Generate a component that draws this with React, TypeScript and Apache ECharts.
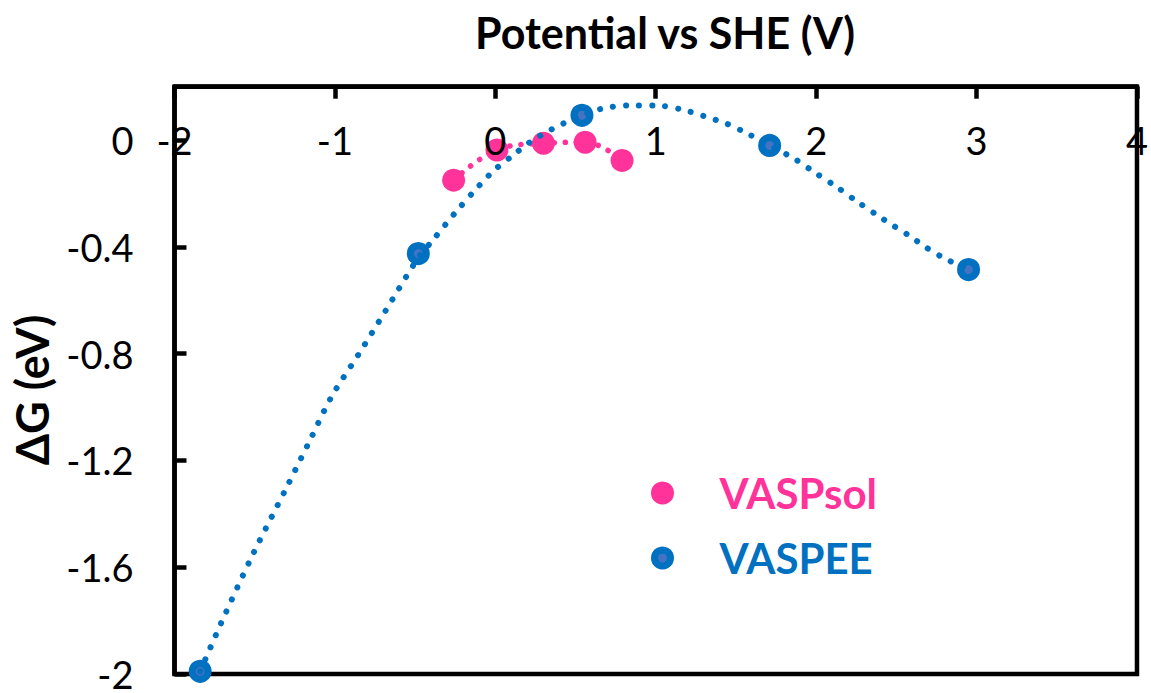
import React, { useEffect, useRef } from "react";
import * as echarts from "echarts";

const xTicks = [-2, -1, 0, 1, 2, 3, 4];
const yTicks = [-2, -1.6, -1.2, -0.8, -0.4, 0];

const vaspsolX = [-0.26, 0.01, 0.3, 0.56, 0.79];
const vaspsolY = [-0.15, -0.037, -0.012, -0.008, -0.076];

const vaspeeX = [-1.84, -0.48, 0.54, 1.71, 2.95];
const vaspeeY = [-1.99, -0.425, 0.093, -0.02, -0.485];

// dotted trendline of VASPEE
const vaspeeTrendX = [-1.84, -1.71, -1.51, -1.3, -1.16, -1.02, -0.85, -0.69, -0.48, -0.39, -0.25, -0.1, 0.0, 0.11, 0.21, 0.35, 0.54, 0.66, 0.83, 1.0, 1.16, 1.3, 1.44, 1.56, 1.71, 1.87, 1.99, 2.12, 2.25, 2.38, 2.48, 2.59, 2.68, 2.8, 2.95];
const vaspeeTrendY = [-1.99, -1.81, -1.55, -1.3, -1.13, -0.96, -0.8, -0.645, -0.44, -0.375, -0.272, -0.17, -0.109, -0.057, -0.01, 0.04, 0.093, 0.117, 0.13, 0.13, 0.115, 0.09, 0.062, 0.028, -0.02, -0.072, -0.121, -0.172, -0.228, -0.281, -0.32, -0.362, -0.4, -0.443, -0.485];

const PINK = "#FF3399";
const BLUE = "#0070C0";
const BLUE_IN = "#4472C4";
const FONT = "Lato, Carlito, 'Open Sans', sans-serif";

const zip = (xs: number[], ys: number[]) => xs.map((x, i) => [x, ys[i]]);

export default function App() {
  const ref = useRef<HTMLDivElement>(null);
  useEffect(() => {
    if (!ref.current) return;
    const chart = echarts.init(ref.current, undefined, { renderer: "svg" });
    chart.setOption({
      animation: false,
      backgroundColor: "#ffffff",
      title: {
        text: "Potential vs SHE (V)",
        left: 660,
        top: 6,
        textAlign: "center",
        textStyle: { fontFamily: FONT, fontWeight: "bold", fontSize: 43, color: "#000" },
      },
      grid: {
        left: 174.5,
        right: 7,
        top: 86.7,
        bottom: 7.4,
        show: true,
        borderColor: "#000",
        borderWidth: 4.5,
        backgroundColor: "transparent",
      },
      legend: {
        orient: "vertical",
        left: 646,
        top: 467,
        itemWidth: 16,
        itemHeight: 16,
        itemGap: 23,
        selectedMode: false,
        icon: "circle",
        textStyle: { fontFamily: FONT, fontWeight: "bold", fontSize: 42, padding: [0, 0, 0, 44] },
        data: [
          { name: "VASPsol", textStyle: { color: PINK }, itemStyle: { color: PINK, borderColor: PINK, borderWidth: 7, opacity: 1 } },
          { name: "VASPEE", textStyle: { color: BLUE }, itemStyle: { color: BLUE_IN, borderColor: BLUE, borderWidth: 7, opacity: 1 } },
        ],
      },
      xAxis: {
        type: "value",
        position: "top",
        min: xTicks[0],
        max: xTicks[xTicks.length - 1],
        interval: 1,
        z: 10,
        axisLine: { show: true, onZero: false, lineStyle: { color: "#000", width: 4.5 } },
        axisTick: { show: true, inside: true, length: 12, lineStyle: { color: "#000", width: 4.5 } },
        axisLabel: {
          inside: true,
          margin: 34,
          showMinLabel: true,
          showMaxLabel: true,
          fontFamily: FONT,
          fontSize: 38,
          color: "#000",
        },
        splitLine: { show: false },
      },
      yAxis: {
        type: "value",
        min: yTicks[0],
        max: 0.2,
        interval: 0.4,
        axisLine: { show: true, onZero: false, lineStyle: { color: "#000", width: 4.5 } },
        axisTick: { show: true, inside: true, length: 12, lineStyle: { color: "#000", width: 4.5 } },
        axisLabel: {
          margin: 41,
          showMaxLabel: false,
          fontFamily: FONT,
          fontSize: 38,
          color: "#000",
        },
        splitLine: { show: false },
      },
      graphic: [
        {
          type: "text",
          x: 32,
          y: 390,
          rotation: Math.PI / 2,
          style: {
            text: "ΔG (eV)",
            font: `bold 45px ${FONT}`,
            fill: "#000",
            textAlign: "center",
            textVerticalAlign: "middle",
          },
        },
      ],
      series: [
        {
          name: "VASPsol",
          type: "scatter",
          symbol: "circle",
          symbolSize: 23,
          itemStyle: { color: PINK, opacity: 1 },
          z: 2,
          data: zip(vaspsolX, vaspsolY),
        },
        {
          name: "VASPEE",
          type: "scatter",
          symbol: "circle",
          symbolSize: 16,
          itemStyle: { color: BLUE_IN, borderColor: BLUE, borderWidth: 7, opacity: 1 },
          z: 2,
          data: zip(vaspeeX, vaspeeY),
        },
        {
          name: "VASPsol trend",
          type: "line",
          smooth: 0.4,
          showSymbol: false,
          symbol: "none",
          z: 3,
          lineStyle: { color: PINK, width: 5.5, type: [0.1, 11], cap: "round" },
          data: zip(vaspsolX, vaspsolY),
        },
        {
          name: "VASPEE trend",
          type: "line",
          smooth: 0.3,
          showSymbol: false,
          symbol: "none",
          z: 3,
          lineStyle: { color: BLUE, width: 6, type: [0.1, 13], cap: "round" },
          data: zip(vaspeeTrendX, vaspeeTrendY),
        },
      ],
    });
    return () => chart.dispose();
  }, []);
  return (
    <div
      ref={ref}
      style={{ position: "fixed", left: 0, top: 0, width: 1151, height: 693, background: "#fff" }}
    />
  );
}
